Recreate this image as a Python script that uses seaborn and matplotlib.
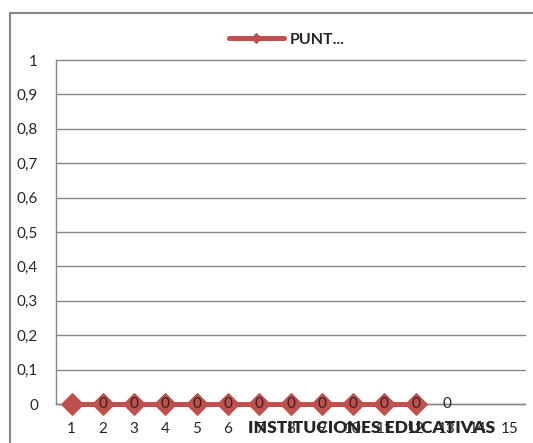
import matplotlib
matplotlib.use("Agg")
import matplotlib.pyplot as plt
from matplotlib.patches import Rectangle
import seaborn as sns

# data
categories = list(range(1, 16))
point_x = list(range(1, 13))
point_values = [0] * 12
label_x = list(range(2, 14))
label_values = [0] * 12
series_name = "PUNT..."
y_ticks = [0, 0.1, 0.2, 0.3, 0.4, 0.5, 0.6, 0.7, 0.8, 0.9, 1]
y_tick_labels = ["0", "0,1", "0,2", "0,3", "0,4", "0,5", "0,6", "0,7", "0,8", "0,9", "1"]
x_title = "INSTITUCIONES EDUCATIVAS"

sns.set_style("white")
plt.rcParams['font.family'] = ['Lato', 'DejaVu Sans']

red = '#C0504D'
grid = '#868686'

fig = plt.figure(figsize=(5.33, 4.43), dpi=100)
ax = fig.add_axes([56 / 533, 1 - 404 / 443, 469 / 533, 344 / 443])

# gridlines
for t in y_ticks:
    ax.axhline(t, color=grid, lw=1, zorder=0)

sns.lineplot(x=point_x, y=point_values, ax=ax, color=red, lw=3.6,
             marker='D', markersize=11, markeredgecolor=red, markerfacecolor=red,
             label=series_name, zorder=3)
for ln in ax.lines:
    ln.set_clip_on(False)

# data labels
for xv, yv in zip(label_x, label_values):
    ax.text(xv, yv, str(yv), ha='center', va='center', fontsize=11, zorder=4)

ax.set_xlim(0.5, 15.5)
ax.set_ylim(0, 1)
ax.set_xticks(categories)
ax.set_xticklabels([str(c) for c in categories], fontsize=11)
ax.set_yticks(y_ticks)
ax.set_yticklabels(y_tick_labels, fontsize=11)
ax.tick_params(axis='x', length=0, pad=13)
ax.tick_params(axis='y', length=0, pad=13)

for side in ['top', 'right']:
    ax.spines[side].set_visible(False)
for side in ['left', 'bottom']:
    ax.spines[side].set_color(grid)
    ax.spines[side].set_linewidth(1)

ax.set_xlabel(x_title, fontsize=12.5, fontweight='heavy')
ax.xaxis.set_label_coords((372 - 56) / 469, -0.07)
ax.xaxis.label.set_va('center')
ax.set_ylabel('')

ax.legend(loc='center', bbox_to_anchor=((287 - 56) / 469, (404 - 40) / 344),
          frameon=False, prop={'weight': 'bold', 'size': 11.5},
          handlelength=3.4, handletextpad=0.4, markerscale=0.5)

# outer chart border
fig.patches.append(Rectangle((10 / 533, -0.1), 1.2, 1.1 - 13 / 443, transform=fig.transFigure,
                             fill=False, edgecolor=grid, lw=1.5))

fig.savefig('out.png', dpi=100)
